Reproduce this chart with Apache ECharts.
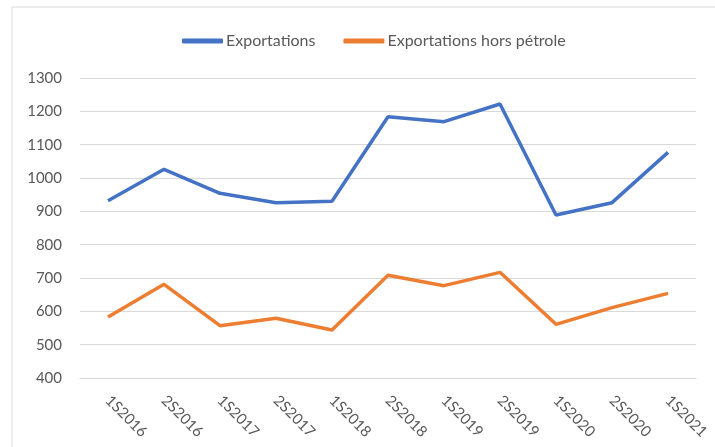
<!DOCTYPE html>
<html><head><meta charset="utf-8">
<script src="https://cdn.jsdelivr.net/npm/echarts@6/dist/echarts.min.js"></script>
<style>html,body{margin:0;padding:0;background:#fff}#c{width:715px;height:447px}</style>
</head><body><div id="c"></div>
<script>
const categories = ['1S2016','2S2016','1S2017','2S2017','1S2018','2S2018','1S2019','2S2019','1S2020','2S2020','1S2021'];
const exportations = [932, 1026, 954, 926, 930, 1184, 1169, 1222, 889, 926, 1077];
const horsPetrole = [583, 681, 557, 579, 544, 708, 677, 717, 561, 611, 654];
const yTicks = {min: 400, max: 1300, interval: 100};

const chart = echarts.init(document.getElementById('c'));
const font = 'Lato, "Open Sans", sans-serif';
chart.setOption({
  animation: false,
  backgroundColor: '#fff',
  graphic: [{type:'rect', shape:{x:12, y:7, width:710, height:450}, style:{fill:'none', stroke:'#d9d9d9', lineWidth:1}, silent:true}],
  legend: {
    top: 28, left: 177, itemGap: 28, itemWidth: 41, itemHeight: 5,
    textStyle: {color:'#595959', fontSize:16, fontFamily: font, padding: [0,0,0,-2]},
    data: [{name:'Exportations', icon:'roundRect'}, {name:'Exportations hors pétrole', icon:'roundRect'}]
  },
  grid: {left: 80, right: 19, top: 78, bottom: 69, outerBoundsMode: 'none', containLabel: false},
  xAxis: {
    type: 'category', data: categories, boundaryGap: true,
    axisLine: {show: true, lineStyle: {color: '#d9d9d9'}},
    axisTick: {show: false},
    axisLabel: {rotate: -45, color: '#595959', fontSize: 15, fontFamily: font, margin: 20, interval: 0}
  },
  yAxis: {
    type: 'value', min: yTicks.min, max: yTicks.max, interval: yTicks.interval,
    axisLine: {show: false}, axisTick: {show: false},
    splitLine: {lineStyle: {color: '#d9d9d9', width: 1}},
    axisLabel: {color: '#595959', fontSize: 15, fontFamily: font, margin: 18, formatter: v => String(v)}
  },
  series: [
    {name: 'Exportations', type: 'line', data: exportations, symbol: 'none',
     lineStyle: {color: '#4472C4', width: 3.5}, itemStyle: {color: '#4472C4'}},
    {name: 'Exportations hors pétrole', type: 'line', data: horsPetrole, symbol: 'none',
     lineStyle: {color: '#ED7D31', width: 3.5}, itemStyle: {color: '#ED7D31'}}
  ]
});
</script></body></html>
